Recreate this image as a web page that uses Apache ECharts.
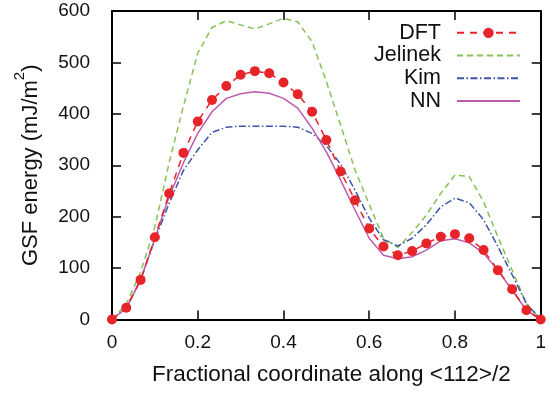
<!DOCTYPE html>
<html>
<head>
<meta charset="utf-8">
<script src="https://cdn.jsdelivr.net/npm/echarts@6/dist/echarts.min.js"></script>
<style>
  html, body { margin: 0; padding: 0; background: #fff; }
  #chart { width: 549px; height: 394px; }
</style>
</head>
<body>
<div id="chart"></div>
<script>
// fractional coordinate along <112>/2, sampled every 1/30
const coords = [0, 0.0333, 0.0667, 0.1, 0.1333, 0.1667, 0.2, 0.2333, 0.2667, 0.3, 0.3333,
  0.3667, 0.4, 0.4333, 0.4667, 0.5, 0.5333, 0.5667, 0.6, 0.6333, 0.6667,
  0.7, 0.7333, 0.7667, 0.8, 0.8333, 0.8667, 0.9, 0.9333, 0.9667, 1];

const dft = [0, 23, 77, 160, 245, 324, 385, 427, 454, 476, 483, 479, 461, 438, 404, 349,
  288, 232, 177, 142, 125, 133, 148, 161, 166, 158, 135, 96, 59, 18, 0];
const jelinek = [0, 30, 92, 180, 305, 415, 518, 568, 581, 573, 565, 575, 586, 579, 540, 463,
  378, 291, 224, 158, 140, 169, 203, 245, 281, 278, 229, 161, 96, 31, 0];
const kim = [0, 22, 77, 155, 226, 290, 330, 364, 374, 376, 376, 376, 376, 374, 362, 338,
  302, 252, 197, 155, 143, 158, 184, 219, 236, 227, 194, 142, 87, 31, 0];
const nn = [0, 22, 77, 158, 239, 305, 362, 404, 430, 439, 443, 440, 430, 411, 372, 326,
  271, 213, 158, 125, 118, 122, 135, 153, 157, 149, 129, 96, 57, 18, 0];

const seriesNames = ["DFT", "Jelinek", "Kim", "NN"];

const font = "Liberation Sans";
const toPairs = (ys) => coords.map((x, i) => [x, ys[i]]);

const frameAxis = {
  axisLine: { show: true, onZero: false, lineStyle: { color: "#000", width: 2 } },
  axisTick: { show: true, inside: true, length: 9, lineStyle: { color: "#000", width: 1.5 } },
  splitLine: { show: false },
};

const chart = echarts.init(document.getElementById("chart"), null, { renderer: "canvas" });

chart.setOption({
  animation: false,
  backgroundColor: "#fff",
  grid: { left: 112, right: 7, top: 11, bottom: 74.5 },
  legend: {
    orient: "vertical",
    right: 28,
    top: 21.5,
    padding: 0,
    align: "right",
    itemWidth: 63,
    itemHeight: 13,
    itemGap: 0,
    // only the DFT entry keeps its marker
    data: seriesNames.map((name) =>
      name === "DFT" ? { name } : { name, itemStyle: { opacity: 0 } }
    ),
    textStyle: {
      fontFamily: font,
      fontSize: 21.5,
      color: "#111",
      lineHeight: 22.7,
      padding: [0, 11, 0, 0],
    },
  },
  xAxis: [
    {
      ...frameAxis,
      type: "value",
      min: 0,
      max: 1,
      interval: 0.2,
      position: "bottom",
      name: "Fractional coordinate along <112>/2",
      nameLocation: "middle",
      nameGap: 44,
      nameTextStyle: { fontFamily: font, fontSize: 22.5, color: "#111", padding: [0, 0, 0, 10] },
      axisLabel: { fontFamily: font, fontSize: 19, color: "#111", margin: 14 },
    },
    {
      ...frameAxis,
      type: "value",
      min: 0,
      max: 1,
      interval: 0.2,
      position: "top",
      axisLabel: { show: false },
    },
  ],
  yAxis: [
    {
      ...frameAxis,
      type: "value",
      min: 0,
      max: 600,
      interval: 100,
      position: "left",
      name: "{a|GSF energy (mJ/m}{s|2}{a|)}",
      nameLocation: "middle",
      nameGap: 70,
      nameTextStyle: {
        fontFamily: font,
        color: "#111",
        rich: {
          a: { fontFamily: font, fontSize: 22, color: "#111", lineHeight: 30, verticalAlign: "bottom" },
          s: { fontFamily: font, fontSize: 15, color: "#111", lineHeight: 30, verticalAlign: "top" },
        },
      },
      axisLabel: { fontFamily: font, fontSize: 19, color: "#111", margin: 22 },
    },
    {
      ...frameAxis,
      type: "value",
      min: 0,
      max: 600,
      interval: 100,
      position: "right",
      axisLabel: { show: false },
    },
  ],
  series: [
    {
      name: "DFT",
      type: "line",
      data: toPairs(dft),
      symbol: "circle",
      symbolSize: 10,
      itemStyle: { color: "#e8242b" },
      lineStyle: { color: "#e8242b", width: 1.5, type: [7, 6] },
      z: 4,
    },
    {
      name: "Jelinek",
      type: "line",
      data: toPairs(jelinek),
      showSymbol: false,
      symbol: "none",
      itemStyle: { color: "#86c257" },
      lineStyle: { color: "#86c257", width: 1.5, type: [6, 4] },
    },
    {
      name: "Kim",
      type: "line",
      data: toPairs(kim),
      showSymbol: false,
      symbol: "none",
      itemStyle: { color: "#3b55a8" },
      lineStyle: { color: "#3b55a8", width: 1.5, type: [7, 2.5, 1.5, 2.5] },
    },
    {
      name: "NN",
      type: "line",
      data: toPairs(nn),
      showSymbol: false,
      symbol: "none",
      itemStyle: { color: "#bd5cad" },
      lineStyle: { color: "#bd5cad", width: 1.5 },
    },
  ],
});
</script>
</body>
</html>
